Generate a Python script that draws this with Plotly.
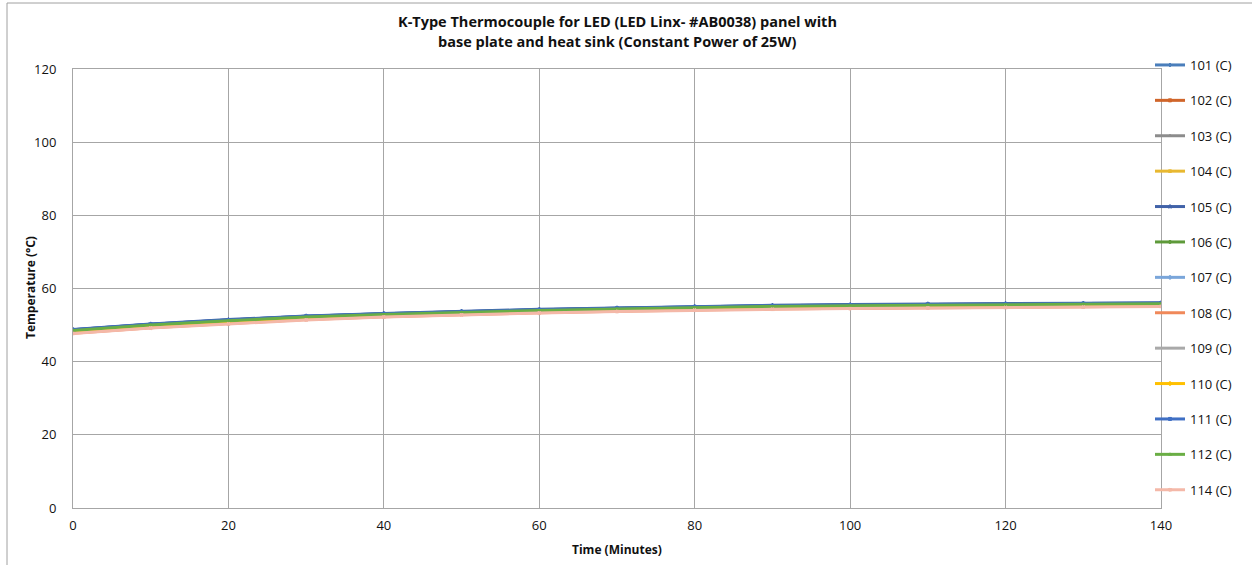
import plotly.graph_objects as go

time_min = [0, 10, 20, 30, 40, 50, 60, 70, 80, 90, 100, 110, 120, 130, 140]

series_names = ["101 (C)", "102 (C)", "103 (C)", "104 (C)", "105 (C)", "106 (C)", "107 (C)",
                "108 (C)", "109 (C)", "110 (C)", "111 (C)", "112 (C)", "114 (C)"]

t101 = [48.7, 50.2, 51.4, 52.4, 53.1, 53.7, 54.2, 54.6, 55.0, 55.3, 55.5, 55.7, 55.8, 55.9, 56.0]
t102 = [47.9, 49.4, 50.5, 51.6, 52.4, 53.0, 53.5, 53.9, 54.3, 54.5, 54.7, 54.9, 55.0, 55.1, 55.3]
t103 = [48.3, 49.8, 51.0, 52.0, 52.7, 53.3, 53.8, 54.2, 54.6, 54.9, 55.1, 55.3, 55.4, 55.5, 55.6]
t104 = [48.2, 49.7, 50.9, 51.9, 52.6, 53.2, 53.7, 54.1, 54.5, 54.8, 55.0, 55.2, 55.3, 55.4, 55.5]
t105 = [48.8, 50.3, 51.5, 52.5, 53.2, 53.8, 54.3, 54.7, 55.1, 55.4, 55.6, 55.8, 55.9, 56.0, 56.1]
t106 = [48.6, 50.1, 51.3, 52.3, 53.0, 53.6, 54.1, 54.5, 54.9, 55.2, 55.4, 55.6, 55.7, 55.8, 55.9]
t107 = [48.4, 49.9, 51.1, 52.1, 52.8, 53.4, 53.9, 54.3, 54.7, 55.0, 55.2, 55.4, 55.5, 55.6, 55.7]
t108 = [47.8, 49.3, 50.4, 51.5, 52.3, 52.9, 53.4, 53.8, 54.2, 54.4, 54.6, 54.8, 54.9, 55.0, 55.2]
t109 = [48.2, 49.7, 50.9, 51.9, 52.6, 53.2, 53.7, 54.1, 54.5, 54.8, 55.0, 55.2, 55.3, 55.4, 55.5]
t110 = [48.3, 49.8, 51.0, 52.0, 52.7, 53.3, 53.8, 54.2, 54.6, 54.9, 55.1, 55.3, 55.4, 55.5, 55.6]
t111 = [48.7, 50.2, 51.4, 52.4, 53.1, 53.7, 54.2, 54.6, 55.0, 55.3, 55.5, 55.7, 55.8, 55.9, 56.0]
t112 = [48.5, 50.0, 51.2, 52.2, 52.9, 53.5, 54.0, 54.4, 54.8, 55.1, 55.3, 55.5, 55.6, 55.7, 55.8]
t114 = [47.7, 49.2, 50.3, 51.4, 52.2, 52.8, 53.3, 53.7, 54.1, 54.3, 54.5, 54.7, 54.8, 54.9, 55.1]

series_values = [t101, t102, t103, t104, t105, t106, t107, t108, t109, t110, t111, t112, t114]

colors = ["#4A7EBB", "#D0652A", "#8C8C8C", "#E8B830", "#4162A8", "#5E9A3A", "#7AA6DA",
          "#F0895A", "#A9A9A9", "#FFC000", "#3F6FC4", "#6AAE45", "#F4B8A8"]
symbols = ["diamond", "square", "triangle-up", "x", "star", "circle", "cross",
           "line-ew-open", "line-ew-open", "cross", "square", "triangle-up", "x"]

title_lines = ["K-Type Thermocouple for LED (LED Linx- #AB0038) panel with",
               "base plate and heat sink (Constant Power of 25W)"]
x_title = "Time (Minutes)"
y_title = "Temperature (°C)"

fig = go.Figure()
for name, vals, col, sym in zip(series_names, series_values, colors, symbols):
    fig.add_trace(go.Scatter(
        x=time_min, y=vals, name=name, mode="lines+markers",
        line=dict(color=col, width=3),
        marker=dict(symbol=sym, size=3, color=col, line=dict(color=col, width=1)),
        legendgroup=name,
    ))

font_family = "Open Sans, Lato, sans-serif"
PW, PH, L, T = 1088, 439, 73, 69


def px_x(px):
    return (px - L) / PW


def px_y(py):
    return (T + PH - py) / PH


annotations = [
    dict(text=f"<b>{title_lines[0]}</b>", x=px_x(617), y=px_y(21), xref="paper", yref="paper",
         xanchor="center", yanchor="middle", showarrow=False,
         font=dict(family=font_family, size=14.5, color="#111111")),
    dict(text=f"<b>{title_lines[1]}</b>", x=px_x(617), y=px_y(42), xref="paper", yref="paper",
         xanchor="center", yanchor="middle", showarrow=False,
         font=dict(family=font_family, size=14.5, color="#111111")),
    dict(text=f"<b>{x_title}</b>", x=px_x(617), y=px_y(549), xref="paper", yref="paper",
         xanchor="center", yanchor="middle", showarrow=False,
         font=dict(family=font_family, size=12, color="#111111")),
    dict(text=f"<b>{y_title}</b>", x=px_x(30), y=px_y(288), xref="paper", yref="paper",
         xanchor="center", yanchor="middle", showarrow=False, textangle=-90,
         font=dict(family=font_family, size=12, color="#111111")),
]

fig.update_layout(
    width=1252, height=565,
    paper_bgcolor="white", plot_bgcolor="white",
    margin=dict(l=L, r=1252 - L - PW, t=T, b=565 - T - PH, autoexpand=False),
    font=dict(family=font_family, size=12, color="#111111"),
    annotations=annotations,
    legend=dict(
        x=px_x(1150), xanchor="left", y=px_y(50), yanchor="top",
        font=dict(family=font_family, size=13, color="#111111"),
        tracegroupgap=15.5, itemwidth=30, bgcolor="rgba(0,0,0,0)",
        maxheight=560,
    ),
    xaxis=dict(
        range=[0, 140], dtick=20, tick0=0, automargin=False,
        showgrid=True, gridcolor="#A6A6A6", gridwidth=1,
        showline=True, linecolor="#A6A6A6", mirror=True,
        zeroline=False, ticks="", ticklen=0, ticklabelstandoff=5,
        tickfont=dict(size=13),
    ),
    yaxis=dict(
        range=[0, 120], dtick=20, tick0=0, automargin=False,
        showgrid=True, gridcolor="#A6A6A6", gridwidth=1,
        showline=True, linecolor="#A6A6A6", mirror=True,
        zeroline=False, ticks="", ticklen=0, ticklabelstandoff=13,
        tickfont=dict(size=13),
    ),
    shapes=[
        dict(type="line", xref="paper", yref="paper",
             x0=px_x(7), x1=px_x(7), y0=px_y(565), y1=px_y(3),
             line=dict(color="#A0A0A0", width=1)),
        dict(type="line", xref="paper", yref="paper",
             x0=px_x(7), x1=px_x(1252), y0=px_y(3), y1=px_y(3),
             line=dict(color="#A0A0A0", width=1)),
    ],
)

fig.write_html("out.html", config={"displayModeBar": False},
               post_script="document.body.style.margin='0';")
